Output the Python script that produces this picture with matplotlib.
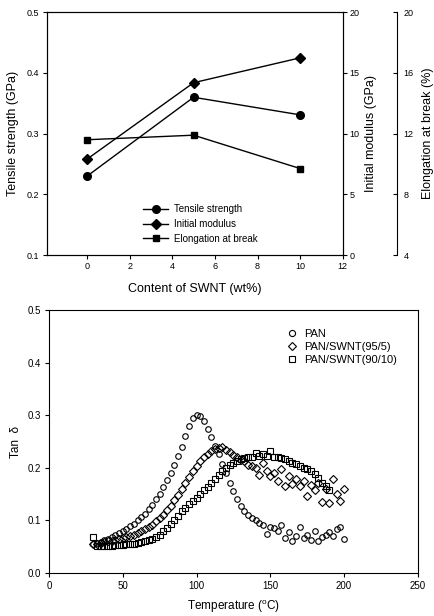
import matplotlib
matplotlib.use('Agg')
import matplotlib.pyplot as plt
import numpy as np

plt.rcParams['font.family'] = ['Liberation Sans', 'DejaVu Sans']

# ---- top panel data ----
swnt = [0, 5, 10]
tensile = [0.23, 0.36, 0.331]        # GPa
modulus = [7.9, 14.2, 16.25]         # GPa
elongation = [11.6, 11.9, 9.7]       # %

# ---- bottom panel data (tan delta) ----
temp_pan = np.arange(30, 200.1, 2.5)
tan_pan = [0.055, 0.057, 0.059, 0.062, 0.065, 0.068, 0.072, 0.076, 0.080, 0.084,
           0.089, 0.094, 0.100, 0.106, 0.113, 0.121, 0.130, 0.140, 0.151, 0.163,
           0.176, 0.190, 0.205, 0.222, 0.240, 0.260, 0.279, 0.294, 0.301, 0.298,
           0.288, 0.274, 0.258, 0.242, 0.226, 0.208, 0.190, 0.172, 0.156, 0.141,
           0.128, 0.118, 0.110, 0.104, 0.100, 0.095, 0.092, 0.074, 0.088, 0.085,
           0.080, 0.092, 0.066, 0.078, 0.060, 0.071, 0.088, 0.066, 0.072, 0.062,
           0.079, 0.060, 0.068, 0.072, 0.077, 0.070, 0.083, 0.087, 0.064]

temp_95 = np.arange(30, 200.1, 2.5)
tan_95 = [0.055, 0.056, 0.057, 0.058, 0.060, 0.061, 0.062, 0.064, 0.066, 0.068,
          0.070, 0.073, 0.076, 0.079, 0.083, 0.087, 0.092, 0.098, 0.104, 0.111,
          0.119, 0.128, 0.138, 0.149, 0.160, 0.172, 0.183, 0.194, 0.203, 0.212,
          0.220, 0.226, 0.231, 0.236, 0.238, 0.240, 0.234, 0.230, 0.224, 0.220,
          0.214, 0.212, 0.206, 0.204, 0.200, 0.186, 0.210, 0.194, 0.184, 0.190,
          0.174, 0.198, 0.166, 0.184, 0.170, 0.178, 0.165, 0.175, 0.146, 0.168,
          0.158, 0.172, 0.135, 0.160, 0.134, 0.178, 0.150, 0.137, 0.160]

temp_90 = np.arange(30, 190.1, 2.5)
tan_90 = [0.068, 0.052, 0.051, 0.051, 0.052, 0.052, 0.053, 0.053, 0.054, 0.055,
          0.055, 0.056, 0.057, 0.058, 0.060, 0.062, 0.065, 0.069, 0.073, 0.079,
          0.086, 0.093, 0.101, 0.109, 0.117, 0.124, 0.131, 0.137, 0.143, 0.150,
          0.157, 0.164, 0.171, 0.178, 0.186, 0.193, 0.199, 0.205, 0.209, 0.213,
          0.216, 0.218, 0.220, 0.221, 0.228, 0.222, 0.226, 0.223, 0.232, 0.221,
          0.220, 0.218, 0.216, 0.213, 0.210, 0.207, 0.204, 0.200, 0.197, 0.193,
          0.189, 0.180, 0.172, 0.165, 0.158]

fig = plt.figure(figsize=(4.35, 6.16), dpi=100)

# ================= top panel =================
ax1 = fig.add_axes([0.107, 0.586, 0.681, 0.394])
ax2 = ax1.twinx()
ax3 = ax1.twinx()
ax3.spines['right'].set_position(('axes', 1.182))

l1, = ax1.plot(swnt, tensile, 'k-o', lw=1, ms=5.5, label='Tensile strength')
l2, = ax2.plot(swnt, modulus, 'k-D', lw=1, ms=5, label='Initial modulus')
l3, = ax3.plot(swnt, elongation, 'k-s', lw=1, ms=5, label='Elongation at break')

ax1.set_xlim(-1.9, 12)
ax1.set_ylim(0.1, 0.5)
ax1.set_xticks([0, 2, 4, 6, 8, 10, 12])
ax1.set_yticks([0.1, 0.2, 0.3, 0.4, 0.5])
ax2.set_ylim(0, 20)
ax2.set_yticks([0, 5, 10, 15, 20])
ax3.set_ylim(4, 20)
ax3.set_yticks([4, 8, 12, 16, 20])

for a in (ax1, ax2):
    a.tick_params(direction='out', length=3, width=0.8, labelsize=6.5, pad=2)
ax3.tick_params(direction='in', length=3, width=0.8, labelsize=6.5, pad=5)
for s in ax3.spines.values():
    s.set_linewidth(0.8)
ax3.spines['left'].set_visible(False)
ax3.spines['top'].set_visible(False)
ax3.spines['bottom'].set_visible(False)

ax1.set_xlabel('Content of SWNT (wt%)', fontsize=9, labelpad=9)
ax1.set_ylabel('Tensile strength (GPa)', fontsize=9, labelpad=6)
ax2.set_ylabel('Initial modulus (GPa)', fontsize=9, labelpad=4)
ax3.set_ylabel('Elongation at break (%)', fontsize=9, labelpad=6)

ax1.legend(handles=[l1, l2, l3], loc='lower center', bbox_to_anchor=(0.52, 0.01),
           frameon=False, fontsize=7, handlelength=2.6, handletextpad=0.6,
           labelspacing=0.5)

# ================= bottom panel =================
ax = fig.add_axes([0.1126, 0.0698, 0.848, 0.427])
ax.plot(temp_pan, tan_pan, 'o', mfc='none', mec='k', ms=4, mew=0.8, label='PAN')
ax.plot(temp_95, tan_95, 'D', mfc='none', mec='k', ms=3.6, mew=0.8,
        label='PAN/SWNT(95/5)')
ax.plot(temp_90, tan_90, 's', mfc='none', mec='k', ms=3.8, mew=0.8,
        label='PAN/SWNT(90/10)')

ax.set_xlim(0, 250)
ax.set_ylim(0, 0.5)
ax.set_xticks([0, 50, 100, 150, 200, 250])
ax.set_yticks([0.0, 0.1, 0.2, 0.3, 0.4, 0.5])
ax.set_yticklabels(['0.0', '0.1', '0.2', '0.3', '0.4', '0.5'])
ax.tick_params(direction='out', length=3, width=0.8, labelsize=7, pad=3)
for s in ax.spines.values():
    s.set_linewidth(0.8)

ax.set_xlabel('Temperature ($^{\\mathregular{o}}$C)', fontsize=8.5, labelpad=5)
ax.set_ylabel('Tan  δ', fontsize=8.5, labelpad=4)

ax.legend(loc='upper right', bbox_to_anchor=(0.97, 0.965), frameon=False,
          fontsize=8, handlelength=1.0, handletextpad=0.6, labelspacing=0.25,
          markerscale=1.1)

fig.savefig('out.png', dpi=100)
